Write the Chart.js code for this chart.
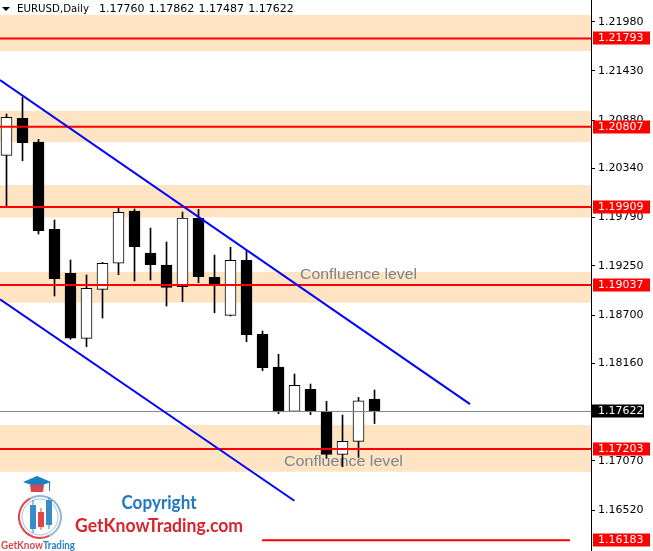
<!DOCTYPE html>
<html><head><meta charset="utf-8">
<script src="https://cdn.jsdelivr.net/npm/chart.js@4.4.1/dist/chart.umd.min.js"></script>
<style>html,body{margin:0;padding:0;background:#fff;overflow:hidden}#wrap{position:relative;width:653px;height:551px}</style>
</head><body><div id="wrap"><canvas id="c" width="653" height="551"></canvas></div>
<script>
// ---- data ----
const symbolTitle = 'EURUSD,Daily';
const headerOHLC = ['1.17760', '1.17862', '1.17487', '1.17622'];
const days   = [1,2,3,4,5,6,7,8,9,10,11,12,13,14,15,16,17,18,19,20,21,22,23,24];
const opens  = [1.20486,1.20900,1.20635,1.19659,1.19167,1.18440,1.18988,1.19280,1.19863,1.19394,1.19260,1.19017,1.19782,1.19122,1.18697,1.19312,1.18485,1.18119,1.17624,1.17870,1.17624,1.17143,1.17288,1.17760];
const highs  = [1.20948,1.21135,1.20665,1.19763,1.19316,1.19148,1.19290,1.19905,1.19886,1.19673,1.19517,1.19852,1.19882,1.19371,1.19458,1.19420,1.18522,1.18261,1.18041,1.17929,1.17736,1.17582,1.17780,1.17862];
const lows   = [1.19919,1.20426,1.19606,1.18913,1.18429,1.18346,1.18667,1.19151,1.19081,1.19092,1.18801,1.18849,1.19062,1.18726,1.18690,1.18402,1.18078,1.17597,1.17620,1.17586,1.17098,1.17004,1.17109,1.17487];
const closes = [1.20911,1.20627,1.19643,1.19106,1.18443,1.18999,1.19279,1.19849,1.19464,1.19263,1.19010,1.19785,1.19129,1.19047,1.19312,1.18480,1.18111,1.17616,1.17914,1.17630,1.17143,1.17288,1.17742,1.17622];
const levels      = [1.21793, 1.20807, 1.19909, 1.19037, 1.17203, 1.16183];
const levelStarts = [null, null, null, null, null, 16.97];
const levelEnds   = [null, null, null, null, null, 36.22];
const bandTops    = [1.22055, 1.20982, 1.20154, 1.19181, 1.17470];
const bandBottoms = [1.21653, 1.20635, 1.19793, 1.18838, 1.16948];
const channelUpperX = [0.594, 29.97];
const channelUpperY = [1.21328, 1.17705];
const channelLowerX = [0.594, 18.99];
const channelLowerY = [1.18876, 1.16624];
const bidPrice = 1.17622;
const tickValues = [1.21980,1.21430,1.20880,1.20340,1.19790,1.19250,1.18700,1.18160,1.17070,1.16520];
const confluenceText = 'Confluence level';
const X_MIN = 0.59375, X_MAX = 37.53, Y_MIN = 1.16062, Y_MAX = 1.22223;

// ---- datasets ----
const datasets = [];
bandTops.forEach((t, i) => datasets.push({
  type: 'line', data: [{x: X_MIN, y: t}, {x: X_MAX, y: t}],
  fill: {value: bandBottoms[i]}, backgroundColor: '#FFE4C4', borderWidth: 0,
  pointRadius: 0, order: 30 - i
}));
const LAST_BAND = bandTops.length - 1;
datasets.push({
  type: 'bar', grouped: false, order: 6, barThickness: 1,
  data: days.map((d, i) => ({x: d, y: [lows[i], highs[i]]})),
  backgroundColor: '#000', borderWidth: 0
});
datasets.push({
  type: 'bar', grouped: false, order: 5, barThickness: 11,
  data: days.map((d, i) => ({x: d, y: [opens[i], closes[i]]})),
  backgroundColor: days.map((d, i) => closes[i] >= opens[i] ? '#fff' : '#000'),
  borderColor: '#000', borderWidth: 1, borderSkipped: false
});
datasets.push({
  type: 'line', data: [{x: X_MIN, y: bidPrice}, {x: X_MAX, y: bidPrice}],
  borderColor: '#778899', borderWidth: 1, pointRadius: 0, order: 4
});
levels.forEach((lv, i) => datasets.push({
  type: 'line',
  data: [{x: levelStarts[i] ?? X_MIN, y: lv}, {x: levelEnds[i] ?? X_MAX, y: lv}],
  borderColor: '#ff0000', borderWidth: 2, pointRadius: 0, order: 3
}));
datasets.push({
  type: 'line', data: channelUpperX.map((x, i) => ({x, y: channelUpperY[i]})),
  borderColor: '#0000ff', borderWidth: 2, pointRadius: 0, order: 2
});
datasets.push({
  type: 'line', data: channelLowerX.map((x, i) => ({x, y: channelLowerY[i]})),
  borderColor: '#0000ff', borderWidth: 2, pointRadius: 0, order: 2
});

function fitText(ctx, text, x, y, width) {
  const w = ctx.measureText(text).width;
  ctx.save(); ctx.translate(x, y); ctx.scale(width / w, 1); ctx.fillText(text, 0, 0); ctx.restore();
}

const overlay = {
  id: 'overlay',
  afterDatasetDraw(chart, args) {
    if (args.index !== LAST_BAND) return;
    const ctx = chart.ctx, xs = chart.scales.x, ys = chart.scales.y;
    ctx.save();
    ctx.fillStyle = '#7a8590';
    ctx.font = '15px "Liberation Sans", Arial, sans-serif';
    ctx.textBaseline = 'middle';
    fitText(ctx, confluenceText, xs.getPixelForValue(19.34), ys.getPixelForValue(1.19148), 117);
    fitText(ctx, confluenceText, xs.getPixelForValue(18.34), ys.getPixelForValue(1.17057), 119);
    ctx.restore();
  },
  afterDraw(chart) {
    const ctx = chart.ctx, ys = chart.scales.y;
    ctx.save();
    // header
    ctx.fillStyle = '#000';
    ctx.beginPath(); ctx.moveTo(2, 7); ctx.lineTo(10, 7); ctx.lineTo(6, 11); ctx.closePath(); ctx.fill();
    ctx.font = '11px "DejaVu Sans", Verdana, sans-serif';
    ctx.textBaseline = 'middle';
    fitText(ctx, symbolTitle, 17, 9, 72);
    const hx = [99, 148.7, 198.5, 248.3];
    headerOHLC.forEach((t, i) => ctx.fillText(t, hx[i], 9));
    // axis labels for levels
    levels.forEach(lv => {
      const y = Math.round(ys.getPixelForValue(lv));
      ctx.fillStyle = '#ff0000';
      ctx.fillRect(593, y - 6.5, 57, 13);
      ctx.fillStyle = '#fff';
      ctx.fillText(lv.toFixed(5), 598, y + 0.5);
    });
    const by = Math.round(ys.getPixelForValue(bidPrice));
    ctx.fillStyle = '#000';
    ctx.fillRect(592, by - 6.5, 52, 13);
    ctx.fillStyle = '#fff';
    ctx.fillText(bidPrice.toFixed(5), 598, by + 0.5);

    // logo
    ctx.lineWidth = 2;
    ctx.strokeStyle = '#e0474c';
    ctx.beginPath(); ctx.arc(40, 517, 21, Math.PI * 0.35, Math.PI * 1.35); ctx.stroke();
    ctx.strokeStyle = '#8fb6d6';
    ctx.beginPath(); ctx.arc(40, 517, 21, Math.PI * 1.35, Math.PI * 2.35); ctx.stroke();
    ctx.lineWidth = 1; ctx.strokeStyle = '#9cc3e0';
    ctx.beginPath(); ctx.arc(40, 517, 18, 0, Math.PI * 2); ctx.stroke();
    // cap
    ctx.fillStyle = '#1f7dc1';
    ctx.beginPath(); ctx.moveTo(23, 482); ctx.lineTo(37, 476); ctx.lineTo(51, 482); ctx.lineTo(37, 487); ctx.closePath(); ctx.fill();
    ctx.fillStyle = '#d9464b';
    ctx.beginPath(); ctx.moveTo(30, 485); ctx.lineTo(44, 485); ctx.lineTo(43, 492); ctx.lineTo(31, 492); ctx.closePath(); ctx.fill();
    ctx.fillStyle = '#1f7dc1'; ctx.fillRect(49, 482, 1, 9);
    // candles in logo
    ctx.fillStyle = '#3a8cc9';
    ctx.fillRect(32.5, 500, 1, 33); ctx.fillRect(30, 505, 6, 24);
    ctx.fillRect(48.5, 497, 1, 32); ctx.fillRect(46, 500, 6, 25);
    ctx.fillStyle = '#e0474c';
    ctx.fillRect(40.5, 508, 1, 22); ctx.fillRect(38, 512, 6, 15);
    ctx.font = 'bold 11px Lato, "Open Sans", sans-serif';
    ctx.textBaseline = 'alphabetic';
    ctx.fillStyle = '#d9464b'; fitText(ctx, 'GetKnow', 1, 549, 42);
    ctx.fillStyle = '#2a7fc1'; fitText(ctx, 'Trading', 43, 549, 32);
    // copyright text
    ctx.font = 'bold 18px Lato, "Open Sans", sans-serif';
    ctx.fillStyle = '#1f78c1';
    fitText(ctx, 'Copyright', 121.5, 509, 75);
    ctx.fillStyle = '#d8242b';
    fitText(ctx, 'GetKnowTrading.com', 75, 532, 168);
    ctx.restore();
  }
};

new Chart(document.getElementById('c'), {
  type: 'bar',
  data: {datasets},
  options: {
    responsive: false, animation: false, devicePixelRatio: 1,
    layout: {padding: 0},
    plugins: {legend: {display: false}, tooltip: {enabled: false}},
    scales: {
      x: {type: 'linear', min: X_MIN, max: X_MAX, offset: false, display: false},
      y: {
        type: 'linear', position: 'right', min: Y_MIN, max: Y_MAX,
        afterFit: s => { s.width = 62; s.paddingTop = 0; s.paddingBottom = 0; },
        afterBuildTicks: s => { s.ticks = tickValues.map(v => ({value: v})); },
        ticks: {
          autoSkip: false, color: '#000', padding: 3,
          font: {family: '"DejaVu Sans", Verdana, sans-serif', size: 11},
          callback: v => Number(v).toFixed(5)
        },
        grid: {drawOnChartArea: false, drawTicks: true, tickLength: 4, color: '#000'},
        border: {display: true, color: '#000', width: 1}
      }
    }
  },
  plugins: [overlay]
});
</script></body></html>
